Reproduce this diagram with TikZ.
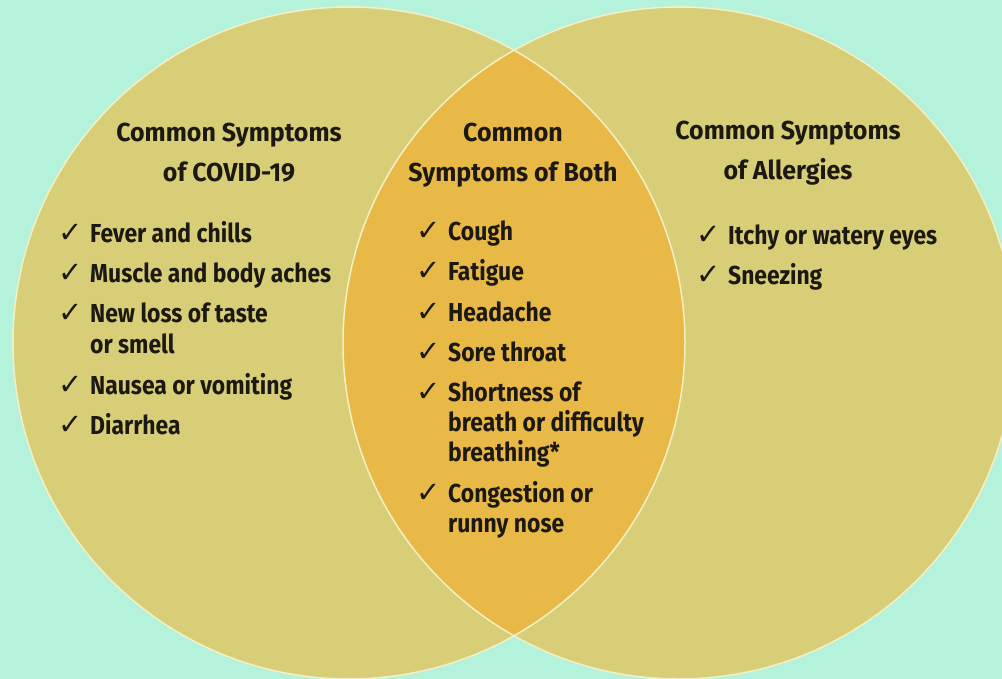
\documentclass[tikz,border=0pt]{standalone}
\usepackage{fontspec}
\setmainfont{Fira Sans}
\newfontfamily\itemfont{Fira Sans}[FakeStretch=0.88]
\newfontfamily\headfont{Fira Sans}[FakeStretch=0.96]
\newfontfamily\symfont{DejaVu Sans}
\definecolor{bgmint}{RGB}{180,242,219}
\definecolor{circfill}{RGB}{216,206,120}
\definecolor{lensfill}{RGB}{233,185,72}
\definecolor{rimcol}{RGB}{245,240,196}
\definecolor{textdark}{RGB}{28,24,18}
\tikzset{
  head/.style={anchor=base, inner sep=0pt, text=textdark, font=\headfont\bfseries\fontsize{26}{30}\selectfont},
  itemtxt/.style={anchor=base west, inner sep=0pt, text=textdark, font=\itemfont\bfseries\fontsize{26}{30}\selectfont},
  chk/.style={anchor=base west, inner sep=0pt, text=textdark, font=\symfont\fontsize{29}{29}\selectfont},
  rim/.style={draw=rimcol, line width=1.5pt}
}
\begin{document}
\begin{tikzpicture}[x=1pt,y=-1pt]
\useasboundingbox (0,0) rectangle (1002,679);
\clip (0,0) rectangle (1002,679);
\fill[bgmint] (0,0) rectangle (1002,679);
\fill[circfill] (349,343) circle [radius=336pt];
\fill[circfill] (679,343) circle [radius=336pt];
\begin{scope}
  \clip (349,343) circle [radius=336pt];
  \fill[lensfill] (679,343) circle [radius=336pt];
\end{scope}
\draw[rim] (349,343) circle [radius=336pt];
\draw[rim] (679,343) circle [radius=336pt];

% Left
\node[head] (lh1) at (229,142) {Common Symptoms};
\node[head] (lh2) at (229,182) {of COVID-19};
\node[chk] (lc1) at (58,243) {✓};
\node[itemtxt] (li1) at (90,243) {Fever and chills};
\node[chk] (lc2) at (58,283) {✓};
\node[itemtxt] (li2) at (90,283) {Muscle and body aches};
\node[chk] (lc3) at (58,323) {✓};
\node[itemtxt] (li3) at (90,323) {New loss of taste};
\node[itemtxt] (li3b) at (90,353) {or smell};
\node[chk] (lc4) at (58,394) {✓};
\node[itemtxt] (li4) at (90,394) {Nausea or vomiting};
\node[chk] (lc5) at (58,434) {✓};
\node[itemtxt] (li5) at (90,434) {Diarrhea};

% Middle
\node[head] (mh1) at (513,142) {Common};
\node[head] (mh2) at (513,182) {Symptoms of Both};
\node[chk] (mc1) at (416,241) {✓};
\node[itemtxt] (mi1) at (448,241) {Cough};
\node[chk] (mc2) at (416,281) {✓};
\node[itemtxt] (mi2) at (448,281) {Fatigue};
\node[chk] (mc3) at (416,321) {✓};
\node[itemtxt] (mi3) at (448,321) {Headache};
\node[chk] (mc4) at (416,361) {✓};
\node[itemtxt] (mi4) at (448,361) {Sore throat};
\node[chk] (mc5) at (416,401) {✓};
\node[itemtxt] (mi5) at (448,401) {Shortness of};
\node[itemtxt] (mi5b) at (448,431) {breath or difficulty};
\node[itemtxt] (mi5c) at (448,461) {breathing*};
\node[chk] (mc6) at (416,502) {✓};
\node[itemtxt] (mi6) at (448,502) {Congestion or};
\node[itemtxt] (mi6b) at (448,532) {runny nose};

% Right
\node[head] (rh1) at (788,140) {Common Symptoms};
\node[head] (rh2) at (788,180) {of Allergies};
\node[chk] (rc1) at (696,245) {✓};
\node[itemtxt] (ri1) at (728,245) {Itchy or watery eyes};
\node[chk] (rc2) at (696,285) {✓};
\node[itemtxt] (ri2) at (728,285) {Sneezing};
\end{tikzpicture}
\end{document}
